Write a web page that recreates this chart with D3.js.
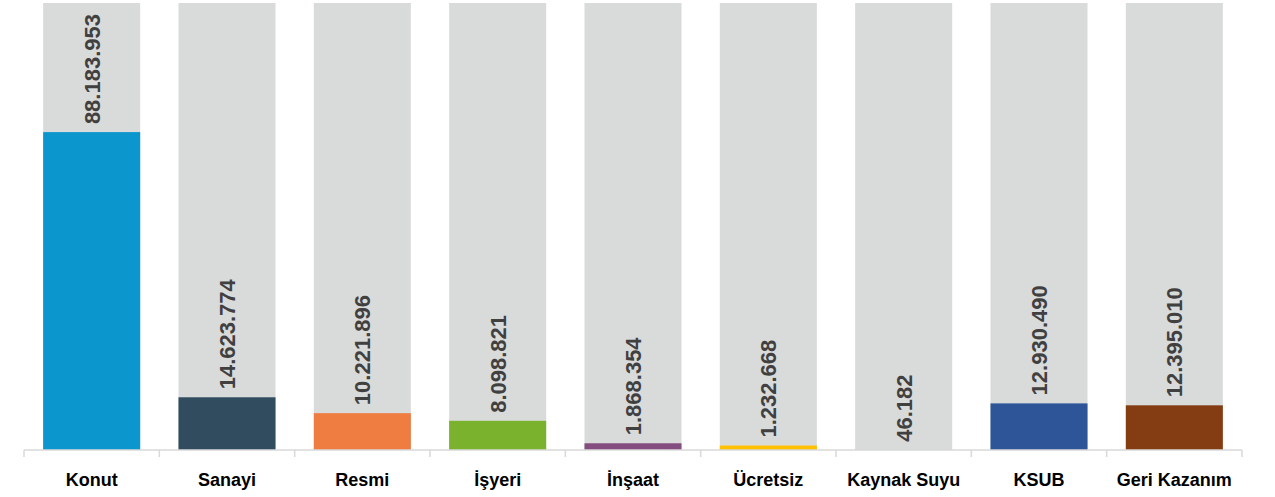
<!DOCTYPE html>
<html>
<head>
<meta charset="utf-8">
<script src="https://cdn.jsdelivr.net/npm/d3@7"></script>
<style>
  html, body { margin: 0; padding: 0; background: #fff; }
  svg { display: block; }
</style>
</head>
<body>
<div id="chart"></div>
<script>
// values
const categories = ["Konut", "Sanayi", "Resmi", "İşyeri", "İnşaat", "Ücretsiz", "Kaynak Suyu", "KSUB", "Geri Kazanım"];
const values = [88183953, 14623774, 10221896, 8098821, 1868354, 1232668, 46182, 12930490, 12395010];
const colors = ["#0b96cd", "#314b5f", "#ef7d42", "#7ab22e", "#834e7f", "#ffc000", "#a5a5a5", "#2e5597", "#843c13"];
const backMax = 124000000;

const width = 1275, height = 497;
const margin = {left: 24, right: 33, top: 3, bottom: 47};

const svg = d3.select("#chart").append("svg")
  .attr("width", width)
  .attr("height", height);

let x = d3.scaleBand()
  .domain(categories)
  .range([margin.left, width - margin.right])
  .paddingInner(0.283)
  .paddingOuter(0.1415);

let y = d3.scaleLinear()
  .domain([0, backMax])
  .range([height - margin.bottom, margin.top]);

let data = categories.map((c, i) => ({cat: c, val: values[i], color: colors[i]}));
let fmt = v => d3.format(",")(v).replace(/,/g, ".");

// grey background bars
svg.append("g").selectAll("rect")
  .data(data)
  .join("rect")
  .attr("x", d => x(d.cat))
  .attr("width", x.bandwidth())
  .attr("y", y(backMax))
  .attr("height", y(0) - y(backMax))
  .attr("fill", "#d9dada");

// value bars
svg.append("g").selectAll("rect")
  .data(data)
  .join("rect")
  .attr("x", d => x(d.cat))
  .attr("width", x.bandwidth())
  .attr("y", d => y(d.val))
  .attr("height", d => y(0) - y(d.val))
  .attr("fill", d => d.color);

// axis line + ticks between categories
let step = x.step();
let x0 = margin.left, yAxis = y(0);
let axis = svg.append("g").attr("stroke", "#d9d9d9").attr("stroke-width", 1.5);
axis.append("line")
  .attr("x1", x0).attr("x2", x0 + step * categories.length)
  .attr("y1", yAxis).attr("y2", yAxis);
axis.selectAll("line.tick")
  .data(d3.range(categories.length + 1))
  .join("line")
  .attr("class", "tick")
  .attr("x1", i => x0 + i * step).attr("x2", i => x0 + i * step)
  .attr("y1", yAxis).attr("y2", yAxis + 7);

// value labels, rotated
svg.append("g").selectAll("text")
  .data(data)
  .join("text")
  .attr("transform", d => `translate(${x(d.cat) + x.bandwidth() / 2 + 8},${y(d.val) - 8}) rotate(-90)`)
  .attr("text-anchor", "start")
  .attr("font-family", "'Liberation Sans', Arial, sans-serif")
  .attr("font-weight", "bold")
  .attr("font-size", 22)
  .attr("fill", "#404040")
  .text(d => fmt(d.val));

// category labels
svg.append("g").selectAll("text")
  .data(data)
  .join("text")
  .attr("x", d => x(d.cat) + x.bandwidth() / 2)
  .attr("y", 486)
  .attr("text-anchor", "middle")
  .attr("font-family", "'Liberation Sans', Arial, sans-serif")
  .attr("font-weight", "bold")
  .attr("font-size", 18)
  .attr("fill", "#000")
  .text(d => d.cat);
</script>
</body>
</html>
